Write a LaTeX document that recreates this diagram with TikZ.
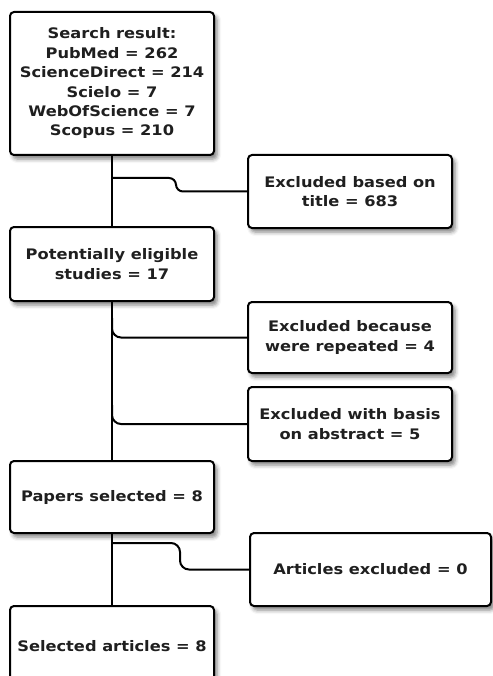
\documentclass[tikz,border=0pt]{standalone}
\usepackage{fontspec}
\setmainfont{DejaVu Sans}[FakeStretch=1.12]
\usetikzlibrary{shadows.blur}
\tikzset{
  box/.style={draw=black, line width=2pt, rounded corners=4pt, fill=white,
    align=center, font=\fontsize{14.5}{19.4}\selectfont\bfseries, text=black!88,
    inner sep=0pt,
    blur shadow={shadow xshift=3pt, shadow yshift=-4pt, shadow blur radius=4pt, shadow opacity=50}},
  conn/.style={line width=2pt, rounded corners=7pt}
}
\begin{document}
\begin{tikzpicture}[x=1pt,y=-1pt]
\useasboundingbox (0,0) rectangle (492,676);
% main column
\node[box, minimum width=204pt, minimum height=143pt] (b1) at (112,83.5)
  {Search result:\\PubMed = 262\\ScienceDirect = 214\\Scielo = 7\\WebOfScience = 7\\Scopus = 210};
\node[box, minimum width=204pt, minimum height=74pt] (b2) at (112,264)
  {Potentially eligible\\studies = 17};
\node[box, minimum width=204pt, minimum height=72pt] (b3) at (112,497)
  {Papers selected = 8};
\node[box, minimum width=204pt, minimum height=80pt] (b4) at (112,646)
  {Selected articles = 8};
% side column
\node[box, minimum width=204pt, minimum height=73pt] (e1) at (350,191.5)
  {Excluded based on\\title = 683};
\node[box, minimum width=204pt, minimum height=71pt] (e2) at (350,337.5)
  {Excluded because\\were repeated = 4};
\node[box, minimum width=204pt, minimum height=74pt] (e3) at (350,424)
  {Excluded with basis\\on abstract = 5};
\node[box, minimum width=241pt, minimum height=73pt] (e4) at (370.5,569.5)
  {Articles excluded = 0};
% junction points
\coordinate (j1) at (112,178);
\coordinate (j2) at (112,318);
\coordinate (j3) at (112,405);
\coordinate (j4) at (112,543);
% vertical connectors
\draw[conn] (b1.south) -- (b2.north);
\draw[conn] (b2.south) -- (b3.north);
\draw[conn] (b3.south) -- (b4.north);
% branches
\draw[conn] (j1) -- (176,178) -- (176,191.5) -- (e1.west);
\draw[conn, rounded corners=9pt] (j2) |- (e2.west);
\draw[conn, rounded corners=9pt] (j3) |- (e3.west);
\draw[conn, rounded corners=9pt] (j4) -- (180,543) -- (180,569.5) -- (e4.west);
\end{tikzpicture}
\end{document}
